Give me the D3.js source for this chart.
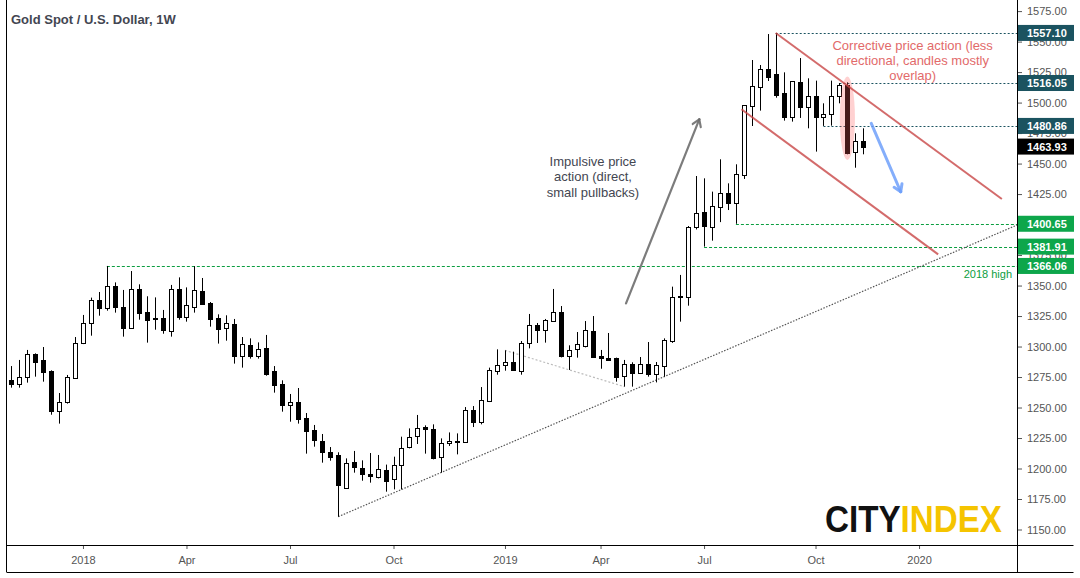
<!DOCTYPE html>
<html><head><meta charset="utf-8">
<script src="https://cdn.jsdelivr.net/npm/d3@7"></script>
<style>
html,body{margin:0;padding:0;background:#fff;}
svg{display:block;font-family:"Liberation Sans",Arial,sans-serif;}
</style></head><body>
<svg id="chart" width="1080" height="578"></svg>
<script>
// ---------- DATA (weekly bars, index 0 = week of 30 Oct 2017) ----------
const opens = [1272.6,1269.0,1275.3,1293.9,1289.0,1279.9,1247.4,1254.8,1273.9,1302.6,
1319.0,1338.2,1331.3,1349.4,1332.4,1315.5,1346.9,1328.3,1323.4,1323.4,
1313.0,1346.9,1324.5,1332.7,1345.5,1335.7,1323.4,1314.9,1318.5,1292.5,
1301.2,1292.5,1298.8,1279.9,1269.3,1252.3,1254.5,1241.4,1231.6,1222.5,
1213.5,1211.1,1184.3,1205.1,1200.1,1195.5,1193.3,1198.5,1191.1,1202.6,
1217.4,1226.4,1234.0,1232.1,1209.2,1220.6,1221.7,1221.4,1247.7,1238.4,
1255.1,1279.7,1284.6,1287.3,1280.2,1302.6,1317.4,1313.8,1320.7,1328.0,
1292.5,1297.7,1300.7,1312.7,1292.0,1290.3,1290.6,1275.6,1285.4,1278.6,
1285.4,1277.2,1284.3,1304.8,1341.2,1340.9,1398.3,1410.0,1398.3,1414.7,
1425.6,1418.0,1440.6,1497.5,1513.0,1527.3,1523.4,1507.6,1488.5,1516.9,
1496.7,1505.1,1488.5,1490.4,1505.1,1514.4,1459.2,1468.2];
const highs = [1284.0,1289.0,1297.2,1294.4,1299.6,1280.5,1261.9,1276.7,1307.8,1325.9,
1340.1,1344.7,1366.06,1352.6,1346.4,1361.9,1351.0,1341.2,1340.3,1330.0,
1350.5,1356.7,1348.5,1365.9,1356.2,1336.5,1326.4,1325.6,1322.6,1307.8,
1306.7,1303.4,1309.5,1284.0,1272.3,1261.1,1266.0,1245.5,1235.7,1228.3,
1217.6,1213.3,1208.3,1214.4,1206.7,1212.7,1211.1,1203.2,1209.7,1226.1,
1232.9,1243.9,1235.4,1236.2,1224.7,1229.6,1228.8,1250.4,1251.2,1266.8,
1282.7,1297.7,1296.9,1295.8,1304.5,1326.7,1319.3,1322.6,1347.2,1333.2,
1301.0,1311.9,1320.9,1325.0,1297.2,1311.1,1290.9,1289.0,1287.1,1291.4,
1303.7,1287.3,1306.7,1349.1,1358.7,1398.8,1439.8,1437.9,1427.0,1453.5,
1433.8,1449.4,1498.0,1534.9,1530.8,1556.2,1557.10,1524.8,1517.4,1536.5,
1519.9,1518.0,1499.4,1518.0,1516.05,1516.6,1474.8,1478.9];
const lows = [1266.3,1266.3,1270.4,1275.3,1271.2,1244.1,1236.8,1253.2,1273.4,1302.0,
1308.9,1325.3,1329.4,1327.8,1308.1,1314.7,1322.0,1303.2,1313.8,1310.5,
1308.1,1322.0,1320.4,1327.8,1334.8,1316.3,1302.4,1304.8,1286.0,1282.7,
1290.1,1290.1,1276.1,1262.2,1246.6,1238.4,1236.8,1212.2,1217.9,1204.8,
1206.4,1160.5,1183.2,1196.6,1190.0,1188.4,1191.9,1181.0,1182.9,1182.9,
1216.5,1220.1,1212.2,1207.5,1196.6,1218.5,1211.6,1221.2,1234.0,1236.2,
1254.5,1276.9,1280.2,1280.8,1276.9,1298.5,1302.9,1303.2,1320.4,1291.1,
1280.8,1290.9,1299.3,1290.9,1281.8,1289.0,1271.2,1267.1,1267.1,1277.8,
1275.3,1270.6,1275.3,1303.0,1320.4,1333.5,1396.0,1381.91,1386.8,1402.0,
1411.9,1400.65,1437.4,1480.8,1493.4,1517.7,1504.0,1485.2,1484.4,1487.4,
1478.9,1459.8,1480.86,1481.1,1499.4,1457.6,1446.6,1457.6];
const closes = [1269.0,1274.8,1293.9,1287.1,1279.4,1247.4,1254.5,1274.8,1302.6,1319.0,
1338.2,1331.3,1349.4,1332.1,1315.5,1346.9,1327.8,1322.0,1322.3,1313.5,
1346.9,1324.5,1333.8,1346.4,1335.1,1322.9,1314.7,1319.0,1292.5,1301.8,
1292.5,1297.7,1277.8,1268.7,1252.3,1254.5,1240.9,1231.0,1223.6,1213.8,
1209.7,1186.5,1204.2,1201.0,1195.8,1193.6,1199.3,1189.8,1202.6,1216.5,
1225.6,1232.9,1232.1,1208.9,1220.6,1222.3,1222.3,1247.7,1237.9,1255.9,
1280.8,1284.6,1287.1,1281.0,1302.6,1317.4,1313.8,1321.5,1328.0,1292.5,
1297.4,1302.0,1313.3,1291.7,1290.6,1289.2,1275.3,1285.4,1278.6,1285.4,
1277.2,1284.6,1305.3,1340.9,1340.6,1398.3,1409.2,1399.1,1415.5,1425.6,
1418.0,1441.2,1497.7,1513.6,1527.3,1520.7,1506.5,1488.5,1517.4,1496.7,
1505.1,1488.5,1490.4,1505.1,1514.1,1458.4,1468.2,1463.93];

const xTickIdx    = [9, 22, 35, 48, 62, 74, 87, 101, 114];
const xTickLabels = ["2018","Apr","Jul","Oct","2019","Apr","Jul","Oct","2020"];
const yTickValues = d3.range(1150, 1576, 25);

// horizontal levels: price, first bar index, group
const levelPrices = [1557.10, 1516.05, 1480.86, 1400.65, 1381.91, 1366.06];
const levelStart  = [96, 104, 102, 91, 87, 12];
const levelGroup  = ["res", "res", "res", "sup", "sup", "sup"];
const lastPrice = 1463.93;

// annotation anchor points in (bar index, price)
const channelUpper = [[96, 1557.1], [124.4, 1420.9]];
const channelLower = [[91.7, 1494.5], [116.4, 1375.6]];
const trendLine    = [[41.06, 1160.5], [126.3, 1399.6]];
const softLine     = [[62, 1296.9], [77, 1267.1]];
const grayArrow    = [[77.2, 1335.4], [86.4, 1486.3]];
const blueArrow    = [[108.0, 1483.0], [111.7, 1426.9]];
const highlight    = {bar: 105, price: 1487.1, halfRange: 34.2};
const impulseText  = ["Impulsive price", "action (direct,", "small pullbacks)"];
const impulseAt    = [73.05, 1452.1];
const correctText  = ["Corrective price action (less", "directional, candles mostly", "overlap)"];
const correctAt    = [113.2, 1547.2];
const highLabel    = "2018 high";

// ---------- LAYOUT ----------
const svg = d3.select("#chart");
const plotL = 6.5, plotR = 1017, plotB = 545, axisB = 572, outerR = 1073.5;

const x = d3.scaleLinear().domain([0, 107]).range([11.3, 863.3]);
const y = d3.scaleLinear().domain([1150, 1575]).range([529.5, 11.1]);
const px = p => [x(p[0]), y(p[1])];

svg.append("rect").attr("width",1080).attr("height",578).attr("fill","#fff");

const clipId = "plotclip";
svg.append("clipPath").attr("id", clipId).append("rect")
  .attr("x", plotL).attr("y", 0).attr("width", plotR - plotL).attr("height", plotB);
const plot = svg.append("g").attr("clip-path", `url(#${clipId})`);

// level lines (under candles)
const teal = "#1b5360", green = "#0b9e40";
levelPrices.forEach((p, i) => {
  const yy = Math.round(y(p)) + 0.5;
  plot.append("line")
    .attr("x1", x(levelStart[i])).attr("x2", plotR)
    .attr("y1", yy).attr("y2", yy)
    .attr("stroke", levelGroup[i] === "res" ? teal : green)
    .attr("stroke-width", 1)
    .attr("stroke-dasharray", levelGroup[i] === "res" ? "2,2" : "3,2");
});

// dotted trend lines
plot.append("line")
  .attr("x1", px(trendLine[0])[0]).attr("y1", px(trendLine[0])[1])
  .attr("x2", px(trendLine[1])[0]).attr("y2", px(trendLine[1])[1])
  .attr("stroke", "#555").attr("stroke-width", 1.2).attr("stroke-dasharray", "1.5,1.5");
plot.append("line")
  .attr("x1", px(softLine[0])[0]).attr("y1", px(softLine[0])[1])
  .attr("x2", px(softLine[1])[0]).attr("y2", px(softLine[1])[1])
  .attr("stroke", "#bbb").attr("stroke-width", 1.2).attr("stroke-dasharray", "2,2");

// candles
const idx = d3.range(opens.length);
const cg = plot.append("g");
idx.forEach(i => {
  const c = Math.round(x(i));
  const o = opens[i], cl = closes[i];
  const up = cl >= o;
  cg.append("line")
    .attr("x1", c + 0.5).attr("x2", c + 0.5)
    .attr("y1", y(highs[i])).attr("y2", y(lows[i]))
    .attr("stroke", "#000").attr("stroke-width", 1);
  const yTop = Math.round(y(Math.max(o, cl))), yBot = Math.round(y(Math.min(o, cl)));
  cg.append("rect")
    .attr("x", c - 1.5).attr("width", 4)
    .attr("y", yTop + 0.5).attr("height", Math.max(1, yBot - yTop))
    .attr("fill", up ? "#fff" : "#000")
    .attr("stroke", "#000").attr("stroke-width", 1);
});

// highlight ellipse over the big bearish week
plot.append("ellipse")
  .attr("cx", x(highlight.bar)).attr("cy", y(highlight.price))
  .attr("rx", x(highlight.bar + 0.95) - x(highlight.bar))
  .attr("ry", y(highlight.price - highlight.halfRange) - y(highlight.price))
  .attr("fill", "rgba(255,90,90,0.28)");

// channel lines
[channelUpper, channelLower].forEach(seg => {
  plot.append("line")
    .attr("x1", px(seg[0])[0]).attr("y1", px(seg[0])[1])
    .attr("x2", px(seg[1])[0]).attr("y2", px(seg[1])[1])
    .attr("stroke", "rgba(200,70,70,0.8)").attr("stroke-width", 2);
});

// arrows
function arrow(seg, color, w, head) {
  const [x1, y1] = px(seg[0]), [x2, y2] = px(seg[1]);
  const ang = Math.atan2(y2 - y1, x2 - x1);
  plot.append("line").attr("x1", x1).attr("y1", y1).attr("x2", x2).attr("y2", y2)
    .attr("stroke", color).attr("stroke-width", w).attr("stroke-linecap", "round");
  [Math.PI * 0.82, -Math.PI * 0.82].forEach(a => {
    plot.append("line").attr("x1", x2).attr("y1", y2)
      .attr("x2", x2 + head * Math.cos(ang + a)).attr("y2", y2 + head * Math.sin(ang + a))
      .attr("stroke", color).attr("stroke-width", w).attr("stroke-linecap", "round");
  });
}
arrow(grayArrow, "rgba(110,110,110,0.9)", 2.2, 8);
arrow(blueArrow, "rgba(110,160,250,0.85)", 3, 8);

// annotation texts
const tg = svg.append("g").attr("font-size", 13).attr("text-anchor", "middle");
impulseText.forEach((t, i) => {
  tg.append("text").attr("x", x(impulseAt[0])).attr("y", y(impulseAt[1]) + 4.5 + i * 15.5)
    .attr("fill", "#434651").text(t);
});
correctText.forEach((t, i) => {
  tg.append("text").attr("x", x(correctAt[0])).attr("y", y(correctAt[1]) + 4.5 + i * 15)
    .attr("fill", "#e26a6a").text(t);
});
svg.append("text").attr("x", plotR - 5).attr("y", y(levelPrices[5]) + 12)
  .attr("text-anchor", "end").attr("font-size", 11).attr("fill", green).text(highLabel);

// title
svg.append("text").attr("x", 11).attr("y", 24).attr("font-size", 13).attr("font-weight", "bold")
  .attr("fill", "#434651").text("Gold Spot / U.S. Dollar, 1W");

// logo
const logo = svg.append("text").attr("x", 825).attr("y", 532)
  .attr("font-size", 36).attr("font-weight", "bold").attr("textLength", 177)
  .attr("lengthAdjust", "spacingAndGlyphs");
logo.append("tspan").attr("fill", "#111").text("CITY");
logo.append("tspan").attr("fill", "#f5c400").text("INDEX");

// ---------- AXES ----------
const yAxis = d3.axisRight(y).tickValues(yTickValues).tickSize(5).tickPadding(5)
  .tickFormat(d3.format(".2f"));
const gy = svg.append("g").attr("transform", `translate(${plotR},0)`).call(yAxis);
gy.select(".domain").remove();
gy.selectAll("line").attr("stroke", "#555");
gy.selectAll("text").attr("font-size", 11).attr("fill", "#555")
  .attr("font-family", "'Liberation Sans',Arial,sans-serif");

const xAxis = d3.axisBottom(x).tickValues(xTickIdx).tickSize(4).tickPadding(7)
  .tickFormat((d, i) => xTickLabels[i]);
const gx = svg.append("g").attr("transform", `translate(0,${plotB})`).call(xAxis);
gx.select(".domain").remove();
gx.selectAll("line").attr("stroke", "#555");
gx.selectAll("text").attr("font-size", 11).attr("fill", "#555")
  .attr("font-family", "'Liberation Sans',Arial,sans-serif");

// frame
const frame = svg.append("g").attr("stroke", "#000").attr("stroke-width", 1).attr("fill", "none");
frame.append("line").attr("x1", plotL).attr("x2", plotL).attr("y1", 0).attr("y2", axisB);
frame.append("line").attr("x1", plotR + 0.5).attr("x2", plotR + 0.5).attr("y1", 0).attr("y2", axisB);
frame.append("line").attr("x1", plotL).attr("x2", outerR).attr("y1", plotB + 0.5).attr("y2", plotB + 0.5);
frame.append("line").attr("x1", plotL).attr("x2", outerR).attr("y1", axisB + 0.5).attr("y2", axisB + 0.5);

// price labels on axis
const boxes = svg.append("g");
levelPrices.concat([lastPrice]).forEach((p, i) => {
  const col = i < levelPrices.length ? (levelGroup[i] === "res" ? teal : "#0da64b") : "#000";
  const yy = y(p);
  boxes.append("rect").attr("x", plotR + 1).attr("y", yy - 8).attr("width", 56).attr("height", 16)
    .attr("fill", col);
  boxes.append("text").attr("x", plotR + 10).attr("y", yy + 4).attr("font-size", 11)
    .attr("font-weight", "bold").attr("fill", "#fff").text(d3.format(".2f")(p));
});
</script>
</body></html>
